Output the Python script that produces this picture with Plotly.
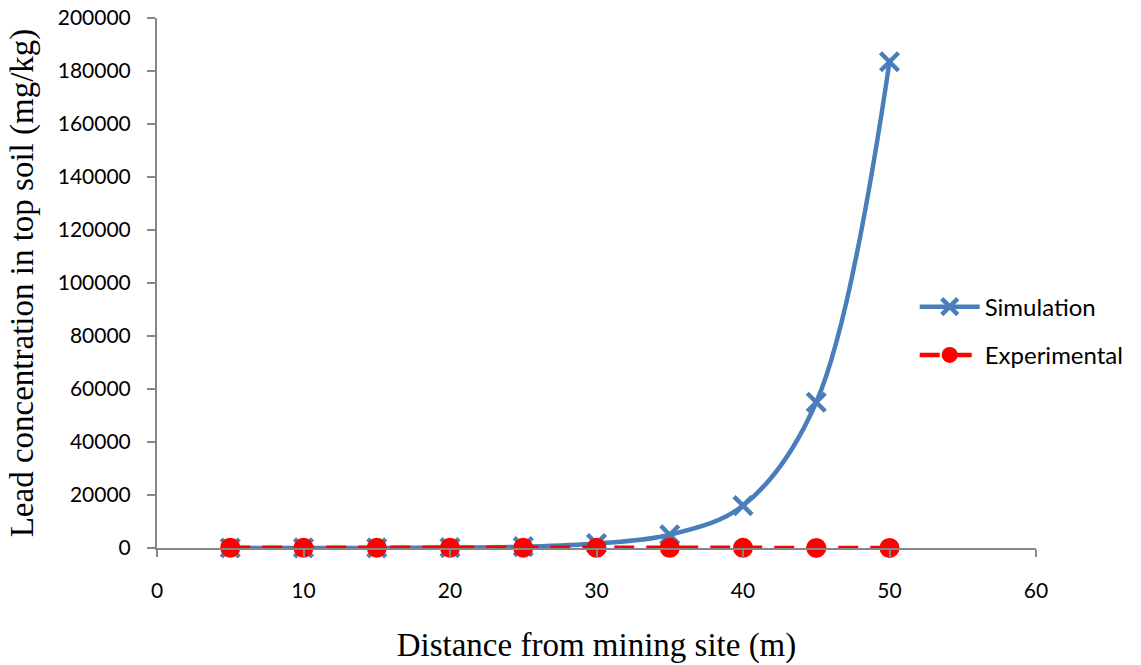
import plotly.graph_objects as go

# Distance from mining site (m)
distance = [5, 10, 15, 20, 25, 30, 35, 40, 45, 50]
# Lead concentration in top soil (mg/kg)
simulation = [5, 15, 45, 150, 500, 1700, 5000, 16000, 55000, 183500]
experimental = [120, 110, 100, 90, 80, 70, 60, 50, 40, 30]

x_ticks = [0, 10, 20, 30, 40, 50, 60]
y_ticks = list(range(0, 200001, 20000))

blue = "#4a7ebb"
red = "#ff0000"
axis_grey = "#868686"

fig = go.Figure()
fig.add_trace(go.Scatter(
    x=distance, y=simulation, name="Simulation", legendgroup="sim",
    mode="lines+markers", cliponaxis=False,
    line=dict(color=blue, width=4.5, shape="spline", smoothing=1.0),
    marker=dict(symbol="x-thin", size=18, line=dict(color=blue, width=4.5), color=blue),
))
fig.add_trace(go.Scatter(
    x=distance, y=experimental, name="Experimental", legendgroup="exp",
    mode="lines+markers", cliponaxis=False,
    line=dict(color=red, width=4.5, dash="20px,12px"),
    marker=dict(symbol="circle", size=20, color=red),
))

tick_font = dict(family="Lato, Liberation Sans, sans-serif", size=21, color="#000000")
title_font = dict(family="Liberation Serif, Times New Roman, serif", size=33, color="#000000")

fig.update_layout(
    width=1141, height=665,
    margin=dict(l=157, r=105, t=18, b=117),
    paper_bgcolor="white", plot_bgcolor="white",
    showlegend=True,
    legend=dict(
        x=0.862, y=0.497, xanchor="left", yanchor="top",
        font=dict(family="Lato, Liberation Sans, sans-serif", size=24, color="#000000"),
        bgcolor="rgba(0,0,0,0)", tracegroupgap=14, itemwidth=60,
    ),
    xaxis=dict(
        range=[0, 60], tickvals=x_ticks, ticktext=[str(v) for v in x_ticks],
        showgrid=False, zeroline=False, showline=True, linecolor=axis_grey, linewidth=2,
        ticks="outside", ticklen=7, tickwidth=2, tickcolor=axis_grey,
        tickfont=tick_font, ticklabelstandoff=16, automargin=False,
        title=dict(text="Distance from mining site (m)", font=title_font, standoff=32),
    ),
    yaxis=dict(
        range=[0, 200000], tickvals=y_ticks, ticktext=[str(v) for v in y_ticks],
        showgrid=False, zeroline=False, showline=True, linecolor=axis_grey, linewidth=2,
        ticks="outside", ticklen=8, tickwidth=2, tickcolor=axis_grey,
        tickfont=tick_font, ticklabelstandoff=12, automargin=False,
        title=dict(text="Lead concentration in top soil (mg/kg)", font=title_font, standoff=14),
    ),
)

fig.write_html("out.html")
